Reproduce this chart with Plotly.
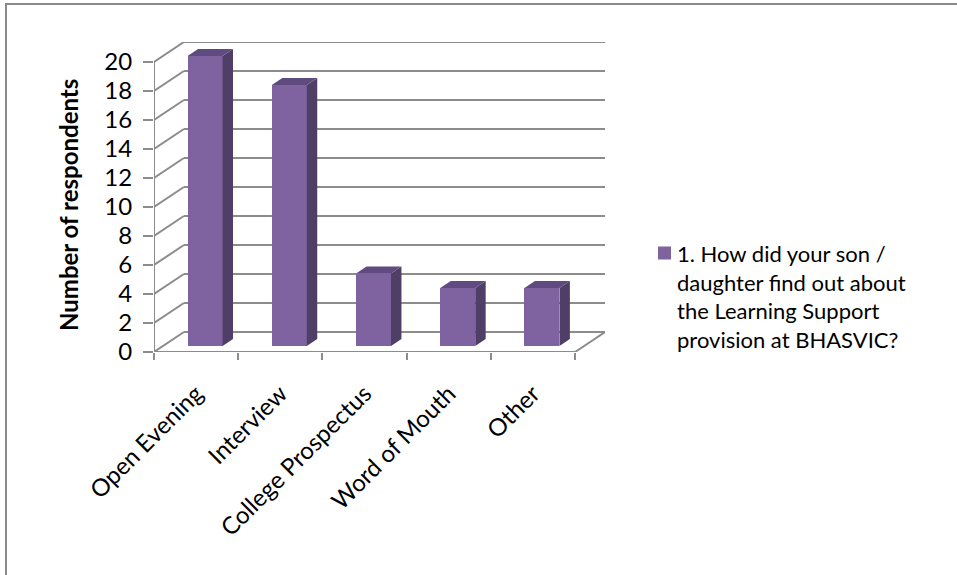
import plotly.graph_objects as go

# ---- data -------------------------------------------------------------
categories = ["Open Evening", "Interview", "College Prospectus", "Word of Mouth", "Other"]
respondents = [20, 18, 5, 4, 4]
y_ticks = list(range(0, 21, 2))
series_name = ("1. How did your son /<br>daughter find out about<br>"
               "the Learning Support<br>provision at BHASVIC?")

# ---- page / plot-area geometry (pixels) -------------------------------
W, H = 957, 575
PL, PR, PT, PB = 154, 605, 42, 352          # plot area edges

# ---- pseudo-3D projection, in axis units ------------------------------
N = len(categories)
Y_MAX = max(y_ticks)
DX = 0.355          # depth shift along the category axis
DY = 1.38           # depth shift along the value axis
BAR_W = 0.415       # bar width (category units)
D0, D1 = 0.30, 0.65 # front / back depth of the columns (fraction of full depth)

FRONT = "#7F63A1"
SIDE = "#4F3E66"
TOP = "#604B80"
GRID = "#8C8C8C"
FONT = "Lato, Carlito, Calibri, sans-serif"


def px_to_paper_x(px):
    return (px - PL) / (PR - PL)


def px_to_paper_y(py):
    return (PB - py) / (PB - PT)


fig = go.Figure()

# front faces of the columns
centers = [i + 0.5 for i in range(N)]
fig.add_trace(go.Bar(
    x=[c + D0 * DX for c in centers],
    y=respondents,
    base=[D0 * DY] * N,
    width=BAR_W,
    marker=dict(color=FRONT, line=dict(width=0)),
    name=series_name,
    showlegend=False,
    hoverinfo="skip",
))

# side and top faces of the columns
k = D1 - D0
for c, v in zip(centers, respondents):
    xl = c + D0 * DX - BAR_W / 2
    xr = c + D0 * DX + BAR_W / 2
    b = D0 * DY
    fig.add_trace(go.Scatter(
        x=[xr, xr + k * DX, xr + k * DX, xr, xr],
        y=[b, b + k * DY, b + k * DY + v, b + v, b],
        fill="toself", fillcolor=SIDE, mode="lines", line=dict(width=0, color=SIDE),
        showlegend=False, hoverinfo="skip",
    ))
    fig.add_trace(go.Scatter(
        x=[xl, xr, xr + k * DX, xl + k * DX, xl],
        y=[b + v, b + v, b + v + k * DY, b + v + k * DY, b + v],
        fill="toself", fillcolor=TOP, mode="lines", line=dict(width=0, color=TOP),
        showlegend=False, hoverinfo="skip",
    ))

# walls and floor (drawn beneath the columns)
shapes = []
line = dict(color=GRID, width=2)
for t in y_ticks:
    # side-wall diagonal + back-wall gridline
    shapes.append(dict(type="line", xref="x", yref="y", x0=0, y0=t, x1=DX, y1=t + DY,
                       line=line, layer="below"))
    shapes.append(dict(type="line", xref="x", yref="y", x0=DX, y0=t + DY, x1=N + DX, y1=t + DY,
                       line=line, layer="below"))
# value axis line
shapes.append(dict(type="line", xref="x", yref="y", x0=0, y0=0, x1=0, y1=Y_MAX,
                   line=line, layer="below"))
# floor front and right edges
shapes.append(dict(type="line", xref="x", yref="y", x0=0, y0=0, x1=N, y1=0,
                   line=line, layer="below"))
shapes.append(dict(type="line", xref="x", yref="y", x0=N, y0=0, x1=N + DX, y1=DY,
                   line=line, layer="below"))
# chart border
shapes.append(dict(type="rect", xref="paper", yref="paper",
                   x0=px_to_paper_x(6), y0=px_to_paper_y(H + 40),
                   x1=px_to_paper_x(W + 40), y1=px_to_paper_y(4),
                   line=dict(color="#8A8A8A", width=2), fillcolor="rgba(0,0,0,0)"))
# legend key
shapes.append(dict(type="rect", xref="paper", yref="paper",
                   x0=px_to_paper_x(658), x1=px_to_paper_x(671),
                   y0=px_to_paper_y(259.5), y1=px_to_paper_y(246.5),
                   line=dict(width=0), fillcolor=FRONT))

fig.update_layout(
    width=W, height=H,
    margin=dict(l=PL, r=W - PR, t=PT, b=H - PB, pad=0),
    paper_bgcolor="white", plot_bgcolor="white",
    font=dict(family=FONT, size=22, color="black"),
    shapes=shapes,
    bargap=0,
    showlegend=False,
    xaxis=dict(
        range=[0, N + DX], showgrid=False, zeroline=False, showline=False,
        tickmode="array", tickvals=centers, ticktext=categories,
        tickangle=-45, ticks="", ticklabelstandoff=22,
        tickfont=dict(family=FONT, size=24, color="black"),
        minor=dict(ticks="outside", tickmode="linear", tick0=0, dtick=1,
                   ticklen=7, tickwidth=2, tickcolor=GRID, showgrid=False),
        fixedrange=True,
    ),
    yaxis=dict(
        range=[0, Y_MAX + DY], showgrid=False, zeroline=False, showline=False,
        tickmode="array", tickvals=y_ticks, ticks="outside", ticklen=10,
        tickwidth=2, tickcolor=GRID, ticklabelstandoff=6,
        tickfont=dict(family=FONT, size=24, color="black"),
        fixedrange=True,
    ),
    annotations=[
        dict(
            text="<b>Number of respondents</b>", textangle=-90,
            xref="paper", yref="paper", x=px_to_paper_x(68), y=px_to_paper_y(205),
            xanchor="center", yanchor="middle", showarrow=False,
            font=dict(family=FONT, size=24, color="black"),
        ),
        dict(
            text=series_name, align="left",
            xref="paper", yref="paper", x=px_to_paper_x(675), y=px_to_paper_y(238),
            xanchor="left", yanchor="top", showarrow=False,
            font=dict(family=FONT, size=22, color="black"),
        ),
    ],
)

for tr in fig.data[1:]:
    tr.cliponaxis = False

fig.write_html("out.html")
